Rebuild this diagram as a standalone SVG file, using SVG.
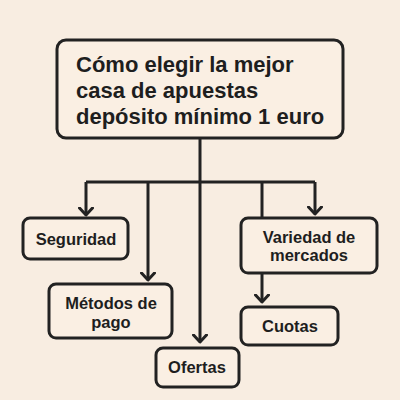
<svg xmlns="http://www.w3.org/2000/svg" width="400" height="400" viewBox="0 0 400 400">
<defs>
<marker id="arr" viewBox="0 0 10 16" refX="8.5" refY="8" markerWidth="10" markerHeight="16" markerUnits="userSpaceOnUse" orient="auto">
<path d="M1.5,1.5 L8.5,8 L1.5,14.5" fill="none" stroke="#222" stroke-width="3" stroke-linecap="round" stroke-linejoin="round"/>
</marker>
</defs>
<style>
.box{fill:#faefe3;stroke:#222;stroke-width:3}
.t{font-family:"Liberation Sans",Arial,sans-serif;font-weight:bold;fill:#1e1e1e}
.s{font-size:16.5px;text-anchor:middle}
.ttl{font-size:22px}
.c{fill:none;stroke:#222;stroke-width:3}
</style>
<rect width="400" height="400" fill="#f8ede1"/>
<g id="connectors">
<path class="c" d="M200,138 V342" marker-end="url(#arr)"/>
<path class="c" d="M86,182 H315"/>
<path class="c" d="M86,182 V215" marker-end="url(#arr)"/>
<path class="c" d="M148,182 V280" marker-end="url(#arr)"/>
<path class="c" d="M262,182 V218"/>
<path class="c" d="M315,182 V214" marker-end="url(#arr)"/>
<path class="c" d="M262,273 V302" marker-end="url(#arr)"/>
</g>
<g id="title">
<rect class="box" x="57" y="40" width="286" height="98" rx="9"/>
<text class="t ttl" x="76" y="72">Cómo elegir la mejor</text>
<text class="t ttl" x="76" y="98">casa de apuestas</text>
<text class="t ttl" x="76" y="124">depósito mínimo 1 euro</text>
</g>
<g id="seguridad">
<rect class="box" x="23" y="218" width="105" height="41" rx="7"/>
<text class="t s" x="76" y="245">Seguridad</text>
</g>
<g id="variedad">
<rect class="box" x="241" y="218" width="136" height="55" rx="7"/>
<text class="t s" x="309" y="243">Variedad de</text>
<text class="t s" x="309" y="261">mercados</text>
</g>
<g id="metodos">
<rect class="box" x="49" y="284" width="123" height="54" rx="7"/>
<text class="t s" x="111" y="309">Métodos de</text>
<text class="t s" x="111" y="328">pago</text>
</g>
<g id="cuotas">
<rect class="box" x="241" y="307" width="97" height="38" rx="7"/>
<text class="t s" x="290" y="332">Cuotas</text>
</g>
<g id="ofertas">
<rect class="box" x="156" y="348" width="83" height="39" rx="7"/>
<text class="t s" x="197" y="373">Ofertas</text>
</g>
</svg>
